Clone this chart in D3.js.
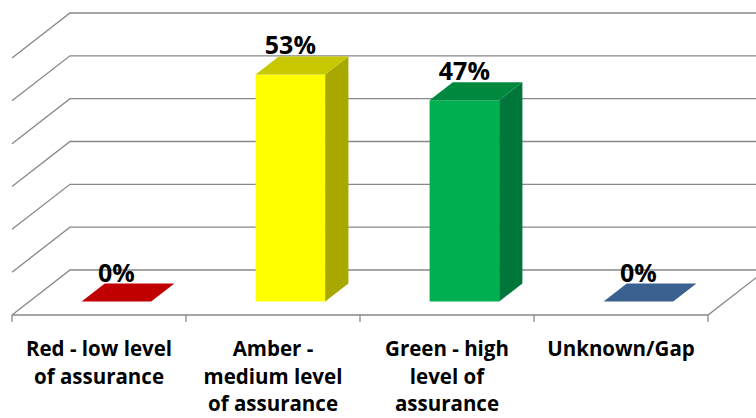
<!DOCTYPE html>
<html>
<head>
<meta charset="utf-8">
<script src="https://cdn.jsdelivr.net/npm/d3@7"></script>
<style>
  body { margin: 0; background: #fff; }
  svg { display: block; font-family: "Open Sans", sans-serif; }
</style>
</head>
<body>
<div id="chart"></div>
<script>
//////////////////////////// data
const categories = ["Red", "Amber", "Green", "Unknown"];
const labelLines = [
  ["Red - low level", "of assurance"],
  ["Amber -", "medium level", "of assurance"],
  ["Green - high", "level of", "assurance"],
  ["Unknown/Gap"],
];
const values = [0, 0.53, 0.47, 0];
const valueLabels = ["0%", "53%", "47%", "0%"];
const yTicks = [0, 0.1, 0.2, 0.3, 0.4, 0.5, 0.6];

// face colours: front, top, side
const faceColors = [
  ["#C00000", "#C00000", "#A00000"],
  ["#FFFF00", "#C8C800", "#A8A800"],
  ["#00B050", "#00883E", "#00763A"],
  ["#4F81BD", "#3A6190", "#2F5077"],
];

//////////////////////////// setup
const width = 756;
const height = 418;
const depth = { dx: 58, dy: 45 }; // oblique offset of the back wall
const barDepth = [0.3, 0.7];
const gridColor = "#888";

const svg = d3
  .select("#chart")
  .append("svg")
  .attr("width", width)
  .attr("height", height);

const x = d3.scaleBand().domain(categories).range([12, 708]).padding(0);
const y = d3.scaleLinear().domain([0, 0.6]).range([315, 58]);

// project front-plane point (px, value) back by z (0 front .. 1 back)
const P = (px, v, z) => [px + depth.dx * z, y(v) - depth.dy * z];
const barW = x.bandwidth() * 0.4;
const barX = (c) => x(c) + (x.bandwidth() - barW) / 2;

//////////////////////////// grid
const grid = svg.append("g").attr("stroke", gridColor).attr("stroke-width", 1.3).attr("fill", "none");
const [x0, x1] = x.range();

grid
  .selectAll(".side")
  .data(yTicks)
  .join("path")
  .attr("d", (t) => d3.line()([P(x0, t, 0), P(x0, t, 1), [width + 10, P(x0, t, 1)[1]]]));

grid
  .append("path")
  .attr("d", d3.line()([P(x0, 0, 0), P(x1, 0, 0), P(x1, 0, 1)]));

grid
  .selectAll(".tick")
  .data(d3.range(categories.length + 1))
  .join("line")
  .attr("x1", (i) => x0 + i * x.step())
  .attr("x2", (i) => x0 + i * x.step())
  .attr("y1", y(0))
  .attr("y2", y(0) + 7);

//////////////////////////// bars
const [z0, z1] = barDepth;
const bars = svg
  .selectAll(".bar")
  .data(categories)
  .join("g")
  .attr("class", "bar");

bars.each(function (c, i) {
  const g = d3.select(this);
  const v = values[i];
  const l = barX(c);
  const r = l + barW;
  const cols = faceColors[i];
  if (v > 0) {
    g.append("path")
      .attr("d", d3.line()([P(l, 0, z0), P(r, 0, z0), P(r, v, z0), P(l, v, z0)]) + "Z")
      .attr("fill", cols[0]);
    g.append("path")
      .attr("d", d3.line()([P(r, 0, z0), P(r, 0, z1), P(r, v, z1), P(r, v, z0)]) + "Z")
      .attr("fill", cols[2]);
  }
  g.append("path")
    .attr("d", d3.line()([P(l, v, z0), P(r, v, z0), P(r, v, z1), P(l, v, z1)]) + "Z")
    .attr("fill", cols[1]);

  // value label
  const [cx] = P(l + barW / 2, v, z0);
  g.append("text")
    .attr("x", cx)
    .attr("y", P(l, v, z1)[1] - 2)
    .attr("text-anchor", "middle")
    .attr("font-size", 25)
    .attr("font-weight", "bold")
    .attr("fill", "#000")
    .text(valueLabels[i]);
});

//////////////////////////// category labels
const labels = svg
  .selectAll(".cat")
  .data(categories)
  .join("text")
  .attr("class", "cat")
  .attr("text-anchor", "middle")
  .attr("font-size", 20.5)
  .attr("font-weight", "bold")
  .attr("fill", "#000");

labels
  .selectAll("tspan")
  .data((c, i) => labelLines[i].map((t) => ({ t, c })))
  .join("tspan")
  .attr("x", (d) => x(d.c) + x.bandwidth() / 2)
  .attr("y", (d, j) => 356 + j * 27.5)
  .text((d) => d.t);
</script>
</body>
</html>
